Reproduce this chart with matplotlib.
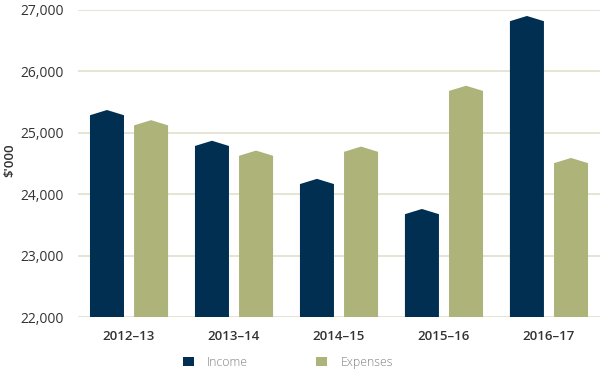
import matplotlib
matplotlib.use('Agg')
import matplotlib.pyplot as plt
import matplotlib.patches as patches
import numpy as np

years = ['2012–13', '2013–14', '2014–15', '2015–16', '2016–17']
income = [25370, 24870, 24250, 23760, 26900]
expenses = [25205, 24710, 24775, 25765, 24590]
y_ticks = [22000, 23000, 24000, 25000, 26000, 27000]

income_col = '#002f52'
expense_col = '#aeb37a'
grid_col = '#dfe0c9'

plt.rcParams['font.family'] = ['Open Sans', 'DejaVu Sans']


def peaked_bar(ax, xc, value, width, cap, color):
	# flat body plus a shallow roof on top
	base = 22000
	half = width / 2.0
	shoulder = value - cap
	pts = [(xc - half, base), (xc - half, shoulder), (xc, value),
		   (xc + half, shoulder), (xc + half, base)]
	ax.add_patch(patches.Polygon(pts, closed=True, facecolor=color,
								 edgecolor='none', zorder=3))


def main():
	fig = plt.figure(figsize=(6.0, 3.78), dpi=100)
	ax = fig.add_axes([0.13, 0.161, 0.87, 0.813])

	x = np.arange(len(years))
	width = 0.324
	off = 0.21
	cap = 85

	for i in range(len(years)):
		peaked_bar(ax, x[i] - off, income[i], width, cap, income_col)
		peaked_bar(ax, x[i] + off, expenses[i], width, cap, expense_col)

	ax.set_xlim(-0.486, 4.486)
	ax.set_ylim(22000, 27000)
	ax.set_yticks(y_ticks)
	ax.set_yticklabels(['{:,}'.format(v) for v in y_ticks])
	ax.set_xticks(x)
	ax.set_xticklabels(years, fontsize=9.5, fontweight='semibold', color='#333333')

	for v in y_ticks:
		ax.axhline(v, color=grid_col, linewidth=1.2, zorder=1)

	for s in ax.spines.values():
		s.set_visible(False)
	ax.tick_params(axis='both', length=0)
	ax.tick_params(axis='y', labelsize=10, labelcolor='#333333', pad=10)
	ax.tick_params(axis='x', pad=9)

	ax.set_ylabel("$'000", fontsize=9.5, fontweight='semibold', color='#333333')
	ax.yaxis.set_label_coords(-0.118, 0.51)

	handles = [patches.Patch(facecolor=income_col, edgecolor='none', label='Income'),
			   patches.Patch(facecolor=expense_col, edgecolor='none', label='Expenses')]
	fig.legend(handles=handles, loc='center', bbox_to_anchor=(0.48, 0.042), ncol=2,
			   frameon=False, handlelength=0.85, handleheight=0.85, handletextpad=1.1,
			   columnspacing=5.6, prop={'size': 8.8, 'weight': 'light'},
			   labelcolor='#808080')

	fig.savefig('out.png', dpi=100)


if __name__ == '__main__':
	main()
